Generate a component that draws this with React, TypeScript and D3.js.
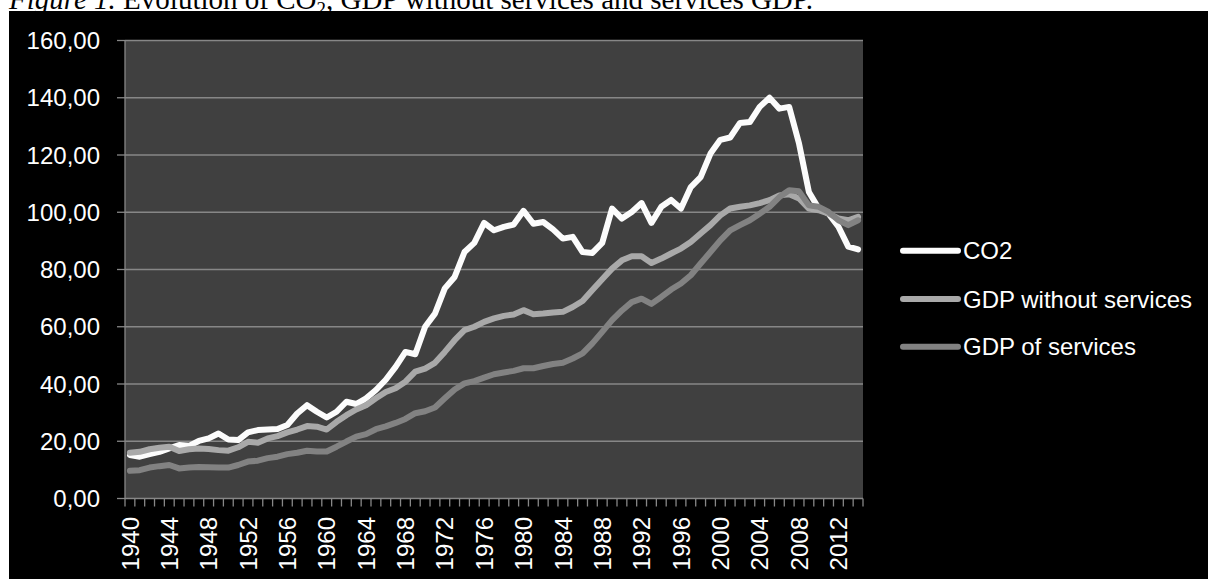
import React from "react";
import * as d3 from "d3";

const years: number[] = d3.range(1940, 2015);

const co2: number[] = [
  15.2, 14.6, 15.5, 16.3, 17.5, 18.7, 18.4, 20.1, 21.0, 22.7,
  20.6, 20.4, 23.1, 23.9, 24.1, 24.3, 25.7, 29.7, 32.6, 30.3,
  28.3, 30.3, 33.8, 33.0, 35.0, 37.9, 41.5, 46.0, 51.2, 50.4,
  60.0, 64.6, 73.4, 77.4, 86.1, 89.3, 96.3, 93.7, 94.9, 95.7,
  100.5, 96.0, 96.6, 94.0, 90.8, 91.4, 86.1, 85.8, 89.3, 101.3,
  97.8, 100.1, 103.2, 96.3, 101.9, 104.3, 101.3, 108.8, 112.3, 120.5,
  125.3, 126.1, 131.2, 131.5, 136.8, 140.0, 136.2, 136.8, 124.0, 107.1,
  101.3, 99.5, 95.0, 88.0, 87.0,
];

const gdpWithoutServices: number[] = [
  16.0, 16.3, 17.2, 17.7, 18.1, 16.6, 17.2, 17.5, 17.3, 16.9,
  16.7, 17.9, 19.8, 19.5, 21.0, 21.8, 23.1, 24.1, 25.3, 25.1,
  24.1, 26.8, 29.1, 31.1, 32.6, 35.0, 37.2, 38.5, 40.8, 44.3,
  45.4, 47.4, 51.2, 55.3, 58.8, 60.0, 61.7, 62.9, 63.8, 64.3,
  65.8, 64.4, 64.6, 65.0, 65.2, 66.9, 69.0, 72.8, 76.6, 80.3,
  83.2, 84.6, 84.6, 82.3, 83.8, 85.6, 87.3, 89.6, 92.6, 95.5,
  98.9, 101.3, 101.9, 102.4, 103.2, 104.2, 105.9, 106.3, 104.8, 101.3,
  100.7, 99.5, 97.8, 97.2, 98.4,
];

const gdpOfServices: number[] = [
  9.7, 9.9, 10.8, 11.3, 11.7, 10.5, 10.8, 11.0, 10.9, 10.8,
  10.8, 11.7, 12.9, 13.2, 14.1, 14.6, 15.5, 16.0, 16.7, 16.4,
  16.4, 18.1, 19.9, 21.6, 22.5, 24.2, 25.2, 26.4, 27.8, 29.8,
  30.5, 31.8, 35.0, 38.1, 40.2, 41.0, 42.2, 43.4, 44.0, 44.6,
  45.5, 45.5, 46.3, 47.0, 47.4, 48.9, 50.7, 54.2, 58.2, 62.3,
  65.7, 68.6, 69.8, 68.0, 70.4, 73.0, 75.1, 78.0, 82.1, 86.1,
  90.2, 93.7, 95.5, 97.2, 99.5, 101.9, 105.3, 107.7, 107.3, 102.4,
  101.9, 100.1, 97.2, 95.5, 97.2,
];

const seriesNames: string[] = ["CO2", "GDP without services", "GDP of services"];
const seriesColors: string[] = ["#fcfcfc", "#a9a9a9", "#828282"];
const yTicks: number[] = [0, 20, 40, 60, 80, 100, 120, 140, 160];
const xLabelYears: number[] = d3.range(1940, 2013, 4);

export default function App() {
  const W = 1208;
  const H = 579;
  const left = 125;
  const right = 863;
  const top = 40.5;
  const bottom = 498.5;

  const x = d3.scaleBand<number>().domain(years).range([left, right]).padding(0);
  const y = d3.scaleLinear().domain([0, 160]).range([bottom, top]);
  const bw = x.bandwidth();

  const allSeries = [co2, gdpWithoutServices, gdpOfServices];
  const line = d3
    .line<number>()
    .x((_, i) => (x(years[i]) as number) + bw / 2)
    .y((d) => y(d));

  const fmt = (v: number) => v.toFixed(2).replace(".", ",");
  const axisColor = "#878787";
  const labelFont = "'Liberation Sans', Arial, sans-serif";

  return (
    <svg
      width={W}
      height={H}
      style={{ position: "absolute", left: 0, top: 0 }}
    >
      <rect x={0} y={0} width={W} height={H} fill="#ffffff" />
      <text
        x={9}
        y={8.5}
        fontFamily="'Liberation Serif', 'Times New Roman', serif"
        fontSize={29}
        fill="#000"
      >
        <tspan fontStyle="italic">Figure 1.</tspan>
        <tspan> Evolution of CO</tspan>
        <tspan fontSize={19} dy={6}>2</tspan>
        <tspan dy={-6}>, GDP without services and services GDP.</tspan>
      </text>
      <rect x={9} y={11} width={W - 9} height={H - 11} fill="#000000" />
      <rect x={left} y={top} width={right - left} height={bottom - top} fill="#404040" />

      {yTicks.map((t) => (
        <g key={t}>
          {t > 0 && (
            <line x1={left} x2={right} y1={y(t)} y2={y(t)} stroke={axisColor} strokeWidth={1.3} />
          )}
          <line x1={left - 8} x2={left} y1={y(t)} y2={y(t)} stroke={axisColor} strokeWidth={1.3} />
          <text
            x={100}
            y={y(t)}
            dy="0.36em"
            textAnchor="end"
            fontFamily={labelFont}
            fontSize={24}
            fill="#ffffff"
          >
            {fmt(t)}
          </text>
        </g>
      ))}

      <line x1={left} x2={left} y1={top} y2={bottom} stroke={axisColor} strokeWidth={1.3} />
      <line x1={left} x2={right} y1={bottom} y2={bottom} stroke={axisColor} strokeWidth={1.3} />

      {d3.range(0, years.length + 1).map((i) => (
        <line
          key={i}
          x1={left + i * bw}
          x2={left + i * bw}
          y1={bottom}
          y2={bottom + 8}
          stroke={axisColor}
          strokeWidth={1.3}
        />
      ))}

      {xLabelYears.map((yr) => {
        const cx = (x(yr) as number) + bw / 2;
        const ty = 517;
        return (
          <text
            key={yr}
            transform={`translate(${cx},${ty}) rotate(-90)`}
            dy="0.36em"
            textAnchor="end"
            fontFamily={labelFont}
            fontSize={24}
            fill="#ffffff"
          >
            {yr}
          </text>
        );
      })}

      {allSeries.map((s, k) => (
        <path
          key={k}
          d={line(s) as string}
          fill="none"
          stroke={seriesColors[k]}
          strokeWidth={6}
          strokeLinejoin="round"
          strokeLinecap="round"
        />
      ))}

      {seriesNames.map((name, k) => {
        const ly = [250.7, 299, 346.7][k];
        return (
          <g key={name}>
            <line
              x1={903}
              x2={958}
              y1={ly}
              y2={ly}
              stroke={seriesColors[k]}
              strokeWidth={6}
              strokeLinecap="round"
            />
            <text
              x={963}
              y={ly}
              dy="0.36em"
              fontFamily={labelFont}
              fontSize={24}
              fill="#ffffff"
            >
              {name}
            </text>
          </g>
        );
      })}
    </svg>
  );
}
